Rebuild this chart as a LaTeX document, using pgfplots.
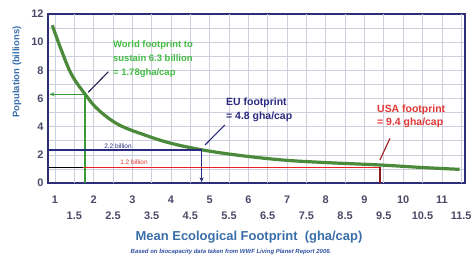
\documentclass[border=0pt]{standalone}
\usepackage{pgfplots}
\pgfplotsset{compat=1.18}
\usepackage{fontspec}
\setmainfont{Liberation Sans}
\usetikzlibrary{arrows.meta}
\definecolor{frame}{HTML}{2D2D78}
\definecolor{gridc}{HTML}{CDCFDC}
\definecolor{tickc}{HTML}{4A4A68}
\definecolor{labc}{HTML}{3A6EA8}
\definecolor{curve}{HTML}{4A8A3A}
\definecolor{gline}{HTML}{3A9A3A}
\definecolor{gtext}{HTML}{44BB44}
\definecolor{navy}{HTML}{2A2A80}
\definecolor{redl}{HTML}{E82020}
\definecolor{redt}{HTML}{E03535}
\definecolor{dred}{HTML}{8B1A1A}
\definecolor{foot}{HTML}{3050A0}
\begin{document}
\begin{tikzpicture}[x=1bp,y=1bp]
\useasboundingbox (0,0) rectangle (473,269);
\begin{axis}[
  at={(48bp,86bp)}, anchor=south west,
  scale only axis, width=417bp, height=169bp,
  xmin=0.82, xmax=11.6, ymin=0, ymax=12,
  axis line style={frame, line width=1.6bp},
  xtick={1,2,...,11},
  extra x ticks={1.5,2.5,3.5,4.5,5.5,6.5,7.5,8.5,9.5,10.5,11.5},
  extra x tick labels={1.5,2.5,3.5,4.5,5.5,6.5,7.5,8.5,9.5,10.5,11.5},
  extra x tick style={grid=major, tick label style={yshift=-16bp}},
  ytick={0,2,...,12},
  minor ytick={1,3,...,11},
  grid=both,
  major grid style={gridc, line width=0.6bp},
  minor grid style={gridc, line width=0.6bp},
  major tick length=0pt, minor tick length=0pt,
  tick label style={font=\fontsize{11}{12}\selectfont\bfseries, text=tickc},
  xticklabel style={yshift=-9bp},
  yticklabel style={xshift=-1bp},
  /pgf/number format/assume math mode=true,
  clip=false,
]
% curve
\addplot[curve, line width=3.2bp, smooth, tension=0.6] coordinates {
(0.93,11.2) (1.17,9.4) (1.43,7.7) (1.78,6.3) (2.12,5.2) (2.64,4.15)
(3.33,3.4) (4.0,2.82) (4.83,2.34) (5.8,1.95) (6.9,1.63) (8.0,1.45)
(9.4,1.28) (10.5,1.1) (11.46,0.97)};
% world
\addplot[gline, line width=1.5bp, -{Stealth[length=5bp,width=4bp]}] coordinates {(1.78,6.3) (0.86,6.3)};
\addplot[gline, line width=1.5bp] coordinates {(1.78,6.3) (1.78,0)};
% EU
\addplot[navy, line width=1.5bp] coordinates {(0.84,2.34) (4.79,2.34)};
\addplot[navy, line width=1.5bp, -{Stealth[length=5bp,width=4bp]}] coordinates {(4.79,2.34) (4.79,0.05)};
% USA
\addplot[black, line width=0.6bp] coordinates {(0.84,1.1) (9.4,1.1)};
\addplot[redl, line width=1.8bp] coordinates {(1.72,1.1) (9.4,1.1)};
\addplot[dred, line width=1.4bp] coordinates {(9.4,1.15) (9.4,0)};
% leaders
\draw[frame!70!black, line width=1.1bp] (axis cs:1.86,6.44) -- (axis cs:2.38,7.9);
\draw[frame, line width=1.1bp] (axis cs:4.88,2.7) -- (axis cs:5.39,4.12);
\draw[dred!80!redl, line width=1.1bp] (axis cs:9.4,1.63) -- (axis cs:9.66,3.17);
\end{axis}
% annotation texts
\node[anchor=west, align=left, text=gtext, font=\fontsize{9.5}{14}\selectfont\bfseries, inner sep=0pt] at (113,269-59) {World footprint to\\sustain 6.3 billion\\= 1.78gha/cap};
\node[anchor=west, align=left, text=navy, font=\fontsize{10.5}{14}\selectfont\bfseries, inner sep=0pt] at (226,269-110) {EU footprint\\= 4.8 gha/cap};
\node[anchor=west, align=left, text=redt, font=\fontsize{10.5}{13}\selectfont\bfseries, inner sep=0pt] at (377,269-116.5) {USA footprint\\= 9.4 gha/cap};
\node[text=navy, font=\fontsize{6.5}{7}\selectfont, inner sep=0pt] at (118,269-146) {2.2 billion};
\node[text=redt, font=\fontsize{6.5}{7}\selectfont, inner sep=0pt] at (134,269-162) {1.2 billion};
% axis labels
\node[text=labc, font=\fontsize{13}{15}\selectfont\bfseries] at (249,269-237) {Mean Ecological Footprint\ \ (gha/cap)};
\node[text=labc, rotate=90, font=\fontsize{9.5}{11}\selectfont\bfseries] at (17,269-72) {Population (billions)};
\node[text=foot, font=\fontsize{6}{7}\selectfont\bfseries\itshape] at (231,269-252) {Based on biocapacity data taken from WWF Living Planet Report 2006.};
\end{tikzpicture}
\end{document}
